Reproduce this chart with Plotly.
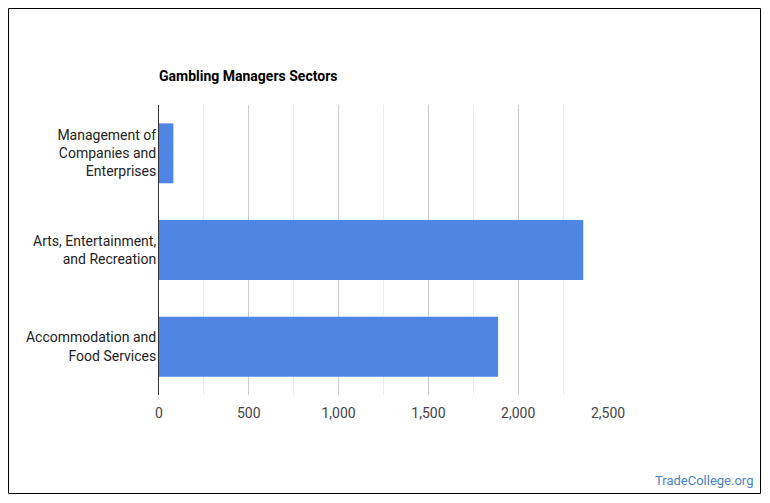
import plotly.graph_objects as go

categories = ["Management of<br>Companies and<br>Enterprises",
              "Arts, Entertainment,<br>and Recreation",
              "Accommodation and<br>Food Services"]
values = [80, 2362, 1888]
x_ticks = [0, 500, 1000, 1500, 2000, 2500]
x_tick_labels = ["0", "500", "1,000", "1,500", "2,000", "2,500"]

W, H = 770, 503
L, R, T, B = 159, 162, 105, 108
pw, ph = W - L - R, H - T - B

def px_x(x):
    return (x - L) / pw

def px_y(y):
    return (H - B - y) / ph

fig = go.Figure()
fig.add_trace(go.Bar(
    x=values, y=categories, orientation="h",
    marker=dict(color="#5086e3", line=dict(width=0)),
    hoverinfo="x+y",
))

fig.update_layout(
    width=W, height=H,
    margin=dict(l=L, r=R, t=T, b=B, pad=0),
    paper_bgcolor="white", plot_bgcolor="white",
    font=dict(family="Roboto", size=14, color="#222222"),
    bargap=0.38,
    showlegend=False,
    title=dict(text="<b>Gambling Managers Sectors</b>",
               font=dict(family="Roboto", size=14, color="#000000"),
               xref="paper", x=0, xanchor="left",
               yref="container", y=1 - 76 / H, yanchor="middle"),
    xaxis=dict(range=[0, 2500], tickvals=x_ticks, ticktext=x_tick_labels,
               showgrid=True, gridcolor="#cccccc", gridwidth=1,
               zeroline=False, showline=False, ticks="",
               ticklabelstandoff=8,
               tickfont=dict(family="Roboto", size=14, color="#444444"),
               minor=dict(dtick=250, tick0=0, showgrid=True, gridcolor="#ebebeb", gridwidth=1),
               fixedrange=True),
    yaxis=dict(autorange="reversed", showgrid=False, zeroline=False,
               showline=True, linecolor="#333333", linewidth=1, ticks="",
               ticklabelstandoff=-1,
               tickfont=dict(family="Roboto", size=14, color="#222222"),
               fixedrange=True),
)

fig.add_shape(type="rect", xref="paper", yref="paper",
              x0=px_x(8.5), x1=px_x(760.5), y0=px_y(493.5), y1=px_y(8.5),
              line=dict(color="#000000", width=1), fillcolor="rgba(0,0,0,0)",
              layer="above")

fig.add_annotation(text="TradeCollege.org", xref="paper", yref="paper",
                   x=px_x(755), y=px_y(480), xanchor="right", yanchor="middle",
                   showarrow=False,
                   font=dict(family="Roboto", size=13, color="#4a7fc9"))

fig.write_html("out.html")
